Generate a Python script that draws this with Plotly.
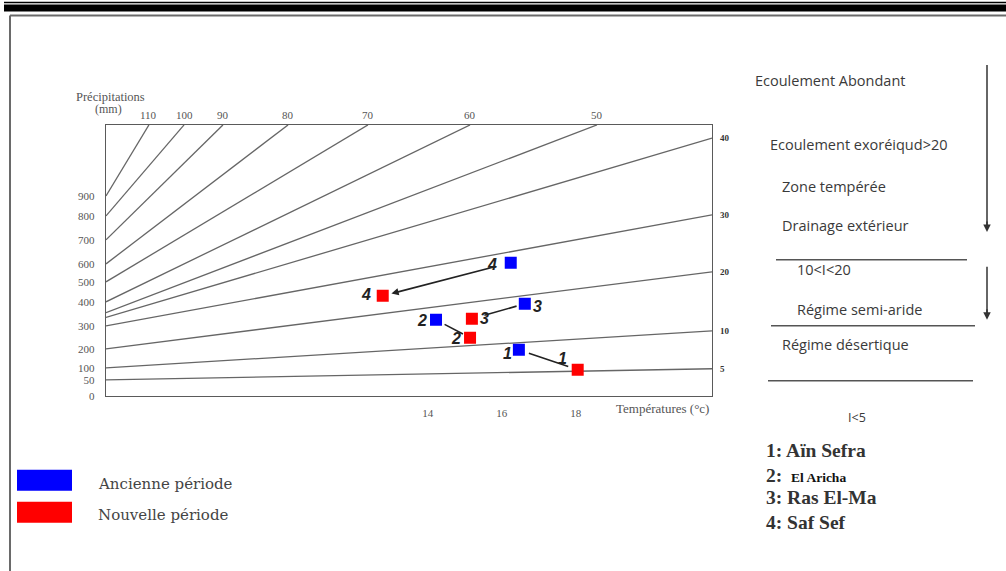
import numpy as np
import plotly.graph_objects as go

W, H = 1006, 571
H_DESIGN = 565.3  # compensates the ~1% vertical squeeze observed in the photographed page

# ---------------- data ----------------
temp_ticks = [14, 16, 18]
precip_ticks = [0, 50, 100, 200, 300, 400, 500, 600, 700, 800, 900]
# graduations of the abacus' (non linear) precipitation scale, in chart height units
precip_scale_mm = [0, 50, 100, 200, 300, 400, 500, 600, 700, 800, 900, 1250]
precip_scale_h = [0, 16, 28, 47, 70, 94, 114, 132, 156, 180, 200, 271]
temp_range = [5.3, 21.68]

# iso-index lines leaving through the top edge
index_top = [110, 100, 90, 80, 70, 60, 50]
index_top_start_mm = [900, 800, 700, 600, 500, 400, 355]
index_top_end_temp = [6.46, 7.41, 8.46, 10.22, 12.38, 15.14, 18.57]
# iso-index lines leaving through the right edge
index_right = [40, 30, 20, 10, 5]
index_right_start_mm = [335, 300, 200, 100, 50]
index_right_end_mm = [1185, 805, 556, 278, 96]

sites = ["1", "2", "3", "4"]
site_names = ["Aïn Sefra", "El Aricha", "Ras El-Ma", "Saf Sef"]
old_temp = [16.46, 14.22, 16.62, 16.24]
old_precip = [195, 325, 392, 605]
new_temp = [18.05, 15.14, 15.19, 12.78]
new_precip = [92, 248, 329, 430]


def h(mm):
    return np.interp(mm, precip_scale_mm, precip_scale_h)


def PX(x):
    return x / W


def PY(y):
    return max(0.0, 1 - y / H_DESIGN)


TOP_H = precip_scale_h[-1]
LINE_C = "#666666"
TXT_C = "#555555"
SERIF = "Liberation Serif"
SANS = "Open Sans"

fig = go.Figure()

# iso lines
for i, s_mm, t_end in zip(index_top, index_top_start_mm, index_top_end_temp):
    fig.add_trace(go.Scatter(x=[temp_range[0], t_end], y=[h(s_mm), TOP_H], mode="lines",
                             line=dict(color=LINE_C, width=1.3), hoverinfo="skip"))
for i, s_mm, e_mm in zip(index_right, index_right_start_mm, index_right_end_mm):
    fig.add_trace(go.Scatter(x=[temp_range[0], temp_range[1]], y=[h(s_mm), h(e_mm)], mode="lines",
                             line=dict(color=LINE_C, width=1.3), hoverinfo="skip"))

# points
fig.add_trace(go.Scatter(x=old_temp, y=h(old_precip), mode="markers",
                         marker=dict(symbol="square", size=12, color="#0000ff", line=dict(width=0)),
                         name="Ancienne période"))
fig.add_trace(go.Scatter(x=new_temp, y=h(new_precip), mode="markers",
                         marker=dict(symbol="square", size=12, color="#ff0000", line=dict(width=0)),
                         name="Nouvelle période"))

ann = []
# arrows old -> new
start_off = [9, 8, 7, 14]
end_off = [10, 8, 13, 9]
for k in range(4):
    ann.append(dict(x=new_temp[k], y=float(h(new_precip[k])), ax=old_temp[k], ay=float(h(old_precip[k])),
                    xref="x", yref="y", axref="x", ayref="y", text="", showarrow=True,
                    arrowhead=2 if k == 3 else 0, arrowsize=0.9, arrowwidth=1.6, arrowcolor="#222222",
                    standoff=end_off[k], startstandoff=start_off[k]))

# number labels next to points
old_shift = [(-11, -4), (-14, -1), (13, -3), (-19, -2)]
new_shift = [(-15, 11), (-14, -1), (13, 0), (-17, 1)]
for k in range(4):
    for (tx, pr, sh) in [(old_temp[k], old_precip[k], old_shift[k]), (new_temp[k], new_precip[k], new_shift[k])]:
        ann.append(dict(x=tx, y=float(h(pr)), xref="x", yref="y", text="<b><i>%s</i></b>" % sites[k],
                        showarrow=False, xshift=sh[0], yshift=sh[1], xanchor="center", yanchor="middle",
                        font=dict(family="Liberation Sans", size=16, color="#222222")))

# index labels (top and right)
for i, t_end in zip(index_top, index_top_end_temp):
    ann.append(dict(x=t_end, y=TOP_H, xref="x", yref="y", text=str(i), showarrow=False,
                    xanchor="center", yanchor="middle", yshift=10,
                    font=dict(family=SERIF, size=11, color=TXT_C)))
for i, e_mm in zip(index_right, index_right_end_mm):
    ann.append(dict(x=temp_range[1], y=float(h(e_mm)), xref="x", yref="y", text="<b>%d</b>" % i,
                    showarrow=False, xanchor="left", yanchor="middle", xshift=6,
                    font=dict(family=SERIF, size=9, color="#333333")))

# axis titles
ann.append(dict(x=PX(110), y=PY(97), xref="paper", yref="paper", text="Précipitations", showarrow=False,
                xanchor="center", yanchor="middle", font=dict(family=SERIF, size=12.5, color=TXT_C)))
ann.append(dict(x=PX(108), y=PY(109), xref="paper", yref="paper", text="(mm)", showarrow=False,
                xanchor="center", yanchor="middle", font=dict(family=SERIF, size=12, color=TXT_C)))
ann.append(dict(x=PX(614), y=PY(409), xref="paper", yref="paper", text="Températures (°c)", showarrow=False,
                xanchor="left", yanchor="middle", font=dict(family=SERIF, size=13, color=TXT_C)))

# right side explanatory text
right_txt = [
    ("Ecoulement Abondant", 753, 81),
    ("Ecoulement exoréiqud>20", 768, 145),
    ("Zone tempérée", 780, 187),
    ("Drainage extérieur", 780, 226),
    ("10<I<20", 795, 270),
    ("Régime semi-aride", 795, 310),
    ("Régime désertique", 780, 345),
    ("I<5", 846, 418),
]
for t, x, y in right_txt:
    ann.append(dict(x=PX(x), y=PY(y), xref="paper", yref="paper", text=t, showarrow=False,
                    xanchor="left", yanchor="middle",
                    font=dict(family=SANS, size=14.5 if t != "I<5" else 12.5, color="#3a3a3a")))

shapes = []
# right arrows: shaft as a paper line, head as a short annotation arrow
for (y0, y1) in [(65, 226), (267, 314)]:
    shapes.append(dict(type="line", xref="paper", yref="paper", x0=PX(987), x1=PX(987), y0=PY(y0), y1=PY(y1),
                       line=dict(color="#333333", width=1.5)))
    ann.append(dict(x=PX(987), y=PY(y1 + 6), xref="paper", yref="paper", ax=0, ay=-12,
                    axref="pixel", ayref="pixel",
                    text="", showarrow=True, arrowhead=2, arrowsize=1, arrowwidth=1.5, arrowcolor="#333333"))

# site list
site_y = [451, 476, 498, 523]
for k in range(4):
    if k == 1:
        ann.append(dict(x=PX(764), y=PY(site_y[k]), xref="paper", yref="paper", text="<b>2:</b>",
                        showarrow=False, xanchor="left", yanchor="middle",
                        font=dict(family=SERIF, size=19.5, color="#333333")))
        ann.append(dict(x=PX(789), y=PY(site_y[k] + 2), xref="paper", yref="paper", text="<b>%s</b>" % site_names[k],
                        showarrow=False, xanchor="left", yanchor="middle",
                        font=dict(family=SERIF, size=13.5, color="#111111")))
    else:
        ann.append(dict(x=PX(764), y=PY(site_y[k]), xref="paper", yref="paper",
                        text="<b>%s: %s</b>" % (sites[k], site_names[k]),
                        showarrow=False, xanchor="left", yanchor="middle",
                        font=dict(family=SERIF, size=19.5, color="#333333")))

# legend text
ann.append(dict(x=PX(96), y=PY(484), xref="paper", yref="paper", text="Ancienne période", showarrow=False,
                xanchor="left", yanchor="middle", font=dict(family="DejaVu Serif", size=15, color="#444444")))
ann.append(dict(x=PX(96), y=PY(515), xref="paper", yref="paper", text="Nouvelle période", showarrow=False,
                xanchor="left", yanchor="middle", font=dict(family="DejaVu Serif", size=15, color="#444444")))

shapes += [
    # page decorations
    dict(type="rect", xref="paper", yref="paper", x0=PX(4), x1=1, y0=PY(3.2), y1=PY(1.8),
         fillcolor="black", line=dict(width=0)),
    dict(type="rect", xref="paper", yref="paper", x0=PX(4), x1=1, y0=PY(11.5), y1=PY(4.5),
         fillcolor="black", line=dict(width=0)),
    dict(type="line", xref="paper", yref="paper", x0=PX(10), x1=1, y0=PY(15.5), y1=PY(15.5),
         line=dict(color="#6a6a6a", width=2)),
    dict(type="line", xref="paper", yref="paper", x0=PX(10), x1=PX(10), y0=PY(15.5), y1=-0.02,
         line=dict(color="#6a6a6a", width=2)),
    # separators on the right
    dict(type="line", xref="paper", yref="paper", x0=PX(776), x1=PX(967), y0=PY(260), y1=PY(260),
         line=dict(color="#555555", width=1.5)),
    dict(type="line", xref="paper", yref="paper", x0=PX(771), x1=PX(975), y0=PY(326), y1=PY(326),
         line=dict(color="#555555", width=1.5)),
    dict(type="line", xref="paper", yref="paper", x0=PX(768), x1=PX(973), y0=PY(381), y1=PY(381),
         line=dict(color="#555555", width=1.5)),
    # legend swatches
    dict(type="rect", xref="paper", yref="paper", x0=PX(17), x1=PX(72), y0=PY(491), y1=PY(470),
         fillcolor="#0000ff", line=dict(width=0)),
    dict(type="rect", xref="paper", yref="paper", x0=PX(17), x1=PX(72), y0=PY(523), y1=PY(502),
         fillcolor="#ff0000", line=dict(width=0)),
]

fig.update_layout(
    width=W, height=H, autosize=False,
    margin=dict(l=0, r=0, t=0, b=0),
    paper_bgcolor="white", plot_bgcolor="white",
    showlegend=False,
    annotations=ann, shapes=shapes,
    xaxis=dict(domain=[PX(106), PX(712)], range=temp_range, tickvals=temp_ticks,
               ticktext=[str(t) for t in temp_ticks], showgrid=False, zeroline=False,
               showline=True, mirror=True, linecolor="#5a5a5a", linewidth=1.4, ticks="",
               ticklabelstandoff=7, tickfont=dict(family=SERIF, size=11, color=TXT_C)),
    yaxis=dict(domain=[PY(396), PY(125)], range=[0, TOP_H], tickvals=list(h(precip_ticks)),
               ticktext=[str(p) for p in precip_ticks], showgrid=False, zeroline=False,
               showline=True, mirror=True, linecolor="#5a5a5a", linewidth=1.4, ticks="",
               ticklabelstandoff=8, tickfont=dict(family=SERIF, size=11, color=TXT_C)),
)

post = (
    "var d=document.documentElement,b=document.body;"
    "d.style.margin='0';d.style.padding='0';d.style.overflow='hidden';"
    "b.style.margin='0';b.style.padding='0';b.style.overflow='hidden';"
)
fig.write_html("out.html", config={"displayModeBar": False}, post_script=post)
